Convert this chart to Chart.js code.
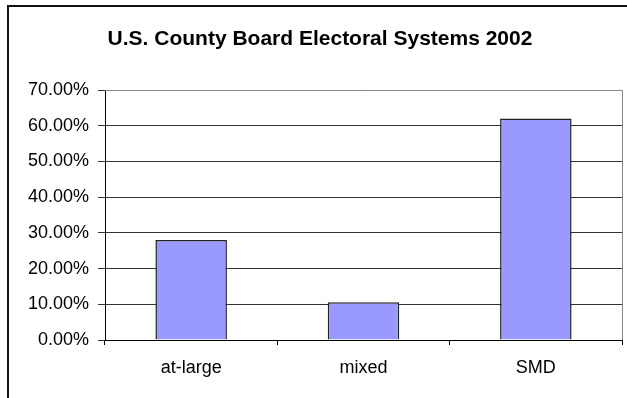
<!DOCTYPE html>
<html>
<head>
<meta charset="utf-8">
<script src="https://cdn.jsdelivr.net/npm/chart.js@4/dist/chart.umd.min.js"></script>
<style>
html,body{margin:0;padding:0;background:#fff;}
canvas{display:block;}
</style>
</head>
<body>
<canvas id="c" width="627" height="398"></canvas>
<script>
const categories = ["at-large", "mixed", "SMD"];
const shares = [28.0, 10.6, 62.0];
const yTicks = [0, 10, 20, 30, 40, 50, 60, 70];
const titleText = "U.S. County Board Electoral Systems 2002";

const framePlugin = {
  id: 'frame',
  beforeDraw(chart) {
    const ctx = chart.ctx;
    ctx.save();
    ctx.fillStyle = '#fff';
    ctx.fillRect(0, 0, chart.width, chart.height);
    ctx.strokeStyle = '#111';
    ctx.lineWidth = 2;
    ctx.strokeRect(8, 6, 700, 500);
    ctx.restore();
  },
  afterDatasetsDraw(chart) {
    const ctx = chart.ctx;
    const a = chart.chartArea;
    ctx.save();
    ctx.strokeStyle = '#888';
    ctx.lineWidth = 1;
    ctx.beginPath();
    ctx.moveTo(a.left, Math.round(a.top) + 0.5);
    ctx.lineTo(Math.round(a.right) + 0.5, Math.round(a.top) + 0.5);
    ctx.lineTo(Math.round(a.right) + 0.5, a.bottom);
    ctx.stroke();
    ctx.restore();
  }
};

new Chart(document.getElementById('c'), {
  type: 'bar',
  data: {
    labels: categories,
    datasets: [{
      data: shares,
      backgroundColor: '#9999FF',
      borderColor: '#222',
      borderWidth: 1.5,
      categoryPercentage: 1.0,
      barPercentage: 0.415
    }]
  },
  options: {
    responsive: false,
    animation: false,
    devicePixelRatio: 1,
    layout: { padding: { left: 18, right: 5, top: 0, bottom: 0 } },
    plugins: {
      legend: { display: false },
      tooltip: { enabled: false },
      title: {
        display: true,
        text: titleText,
        color: '#000',
        font: { family: 'Liberation Sans, Arial, sans-serif', size: 21, weight: 'bold', lineHeight: 1.2 },
        padding: { top: 27, bottom: 37.8 }
      }
    },
    scales: {
      x: {
        grid: {
          offset: true,
          drawOnChartArea: false,
          drawTicks: true,
          tickLength: 5,
          color: '#000'
        },
        border: { display: true, color: '#000', width: 1 },
        ticks: {
          color: '#000',
          padding: 12,
          font: { family: 'Liberation Sans, Arial, sans-serif', size: 18 },
          maxRotation: 0
        },
        afterFit(scale) { scale.height = 58; }
      },
      y: {
        min: 0,
        max: 70,
        afterBuildTicks(scale) { scale.ticks = yTicks.map(v => ({ value: v })); },
        grid: {
          color: '#333',
          lineWidth: 1,
          tickLength: 7,
          drawTicks: true
        },
        border: { display: true, color: '#000', width: 1 },
        ticks: {
          color: '#000',
          padding: 9,
          font: { family: 'Liberation Sans, Arial, sans-serif', size: 18 },
          callback: v => v.toFixed(2) + '%'
        },
        afterFit(scale) { scale.width = 87; }
      }
    }
  },
  plugins: [framePlugin]
});
</script>
</body>
</html>
